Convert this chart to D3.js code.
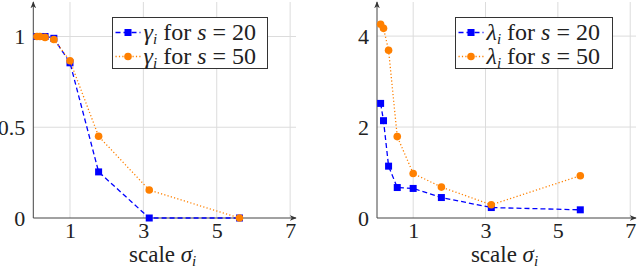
<!DOCTYPE html>
<html>
<head>
<meta charset="utf-8">
<style>
body { margin: 0; background: white; }
svg text, svg tspan { font-family: "Liberation Serif", "Times New Roman", "DejaVu Serif" !important; }
</style>
<script src="https://d3js.org/d3.v7.min.js"></script>
</head>
<body>
<script>

// scales sigma_i (log spaced)
var sigmas = [0.1, 0.18, 0.32, 0.56, 1.0, 1.78, 3.16, 5.62];

// left panel: gamma_i
var gamma20 = [1.0, 1.0, 1.0, 0.99, 0.855, 0.254, 0.0, 0.0];
var gamma50 = [1.0, 1.0, 0.995, 0.983, 0.866, 0.45, 0.154, 0.0];

// right panel: lambda_i
var lambda20 = [2.52, 2.14, 1.14, 0.67, 0.65, 0.45, 0.23, 0.18];
var lambda50 = [4.26, 4.17, 3.69, 1.79, 0.98, 0.68, 0.29, 0.93];

var xTicks = [1, 3, 5, 7];
var yTicksLeft = [0, 0.5, 1];
var yTicksRight = [0, 2, 4];

var FONT = "Liberation Serif";

var svg = d3.select("body").append("svg")
    .attr("width", 640)
    .attr("height", 268)
    .attr("font-family", FONT);

var defs = svg.append("defs");
defs.append("marker")
    .attr("id", "arrow")
    .attr("viewBox", "0 0 10 10")
    .attr("refX", 9).attr("refY", 5)
    .attr("markerWidth", 7).attr("markerHeight", 7)
    .attr("markerUnits", "userSpaceOnUse")
    .attr("orient", "auto")
  .append("path")
    .attr("d", "M0,1 L10,5 L0,9 L3,5 Z")
    .attr("fill", "#333");

function panel(opts) {
  var x = d3.scaleLinear().domain([0, 7.16]).range(opts.xr);
  var y = d3.scaleLinear().domain([0, opts.ymax]).range([218, 2]);
  var g = svg.append("g");

  // grid
  g.selectAll(".vgrid").data(xTicks).enter().append("line")
    .attr("x1", d => x(d)).attr("x2", d => x(d))
    .attr("y1", y(0)).attr("y2", y(opts.ymax))
    .attr("stroke", "#dcdcdc").attr("stroke-width", 1);
  g.selectAll(".hgrid").data(opts.yTicks.slice(1)).enter().append("line")
    .attr("x1", x(0)).attr("x2", x(7.16))
    .attr("y1", d => y(d)).attr("y2", d => y(d))
    .attr("stroke", "#dcdcdc").attr("stroke-width", 1);

  // axes (arrow heads)
  g.append("line")
    .attr("x1", x(0)).attr("x2", x(7.16))
    .attr("y1", y(0)).attr("y2", y(0))
    .attr("stroke", "#444").attr("stroke-width", 1)
    .attr("marker-end", "url(#arrow)");
  g.append("line")
    .attr("x1", x(0)).attr("x2", x(0))
    .attr("y1", y(0)).attr("y2", y(opts.ymax))
    .attr("stroke", "#444").attr("stroke-width", 1)
    .attr("marker-end", "url(#arrow)");

  // tick labels via d3 axes
  var xa = g.append("g")
    .attr("transform", "translate(0," + y(0) + ")")
    .call(d3.axisBottom(x).tickValues(xTicks).tickSize(0).tickPadding(4).tickFormat(d3.format("d")));
  xa.attr("font-family", FONT).attr("font-size", 22);
  xa.select(".domain").remove();
  xa.selectAll("text").attr("fill", "#222").attr("font-family", FONT);

  var ya = g.append("g")
    .attr("transform", "translate(" + x(0) + ",0)")
    .call(d3.axisLeft(y).tickValues(opts.yTicks).tickSize(0).tickPadding(8).tickFormat(d => String(d)));
  ya.attr("font-family", FONT).attr("font-size", 22);
  ya.select(".domain").remove();
  ya.selectAll("text").attr("fill", "#222").attr("font-family", FONT);

  // x label
  var lab = g.append("text")
    .attr("x", (x(0) + x(7.16)) / 2 - 2).attr("y", 262)
    .attr("text-anchor", "middle").attr("font-size", 23).attr("fill", "#222")
    .attr("font-family", FONT);
  lab.append("tspan").text("scale ");
  lab.append("tspan").attr("font-style", "italic").text("σ");
  lab.append("tspan").attr("font-style", "italic").attr("font-size", 15).attr("dy", 4).text("i");

  // series
  var series = [
    {vals: opts.s20, color: "#0000ff", dash: "5,3", marker: "square", label: "20"},
    {vals: opts.s50, color: "#ff8000", dash: "1.2,2.2", marker: "circle", label: "50"}
  ];
  var line = d3.line().x(d => x(d[0])).y(d => y(d[1]));

  series.forEach(function(s) {
    var pts = sigmas.map((v, i) => [v, s.vals[i]]);
    g.append("path").datum(pts)
      .attr("d", line).attr("fill", "none")
      .attr("stroke", s.color).attr("stroke-width", 1.3)
      .attr("stroke-dasharray", s.dash);
    drawMarks(g, pts.map(p => [x(p[0]), y(p[1])]), s);
  });

  // legend
  var lg = g.append("g").attr("transform", "translate(" + opts.legend[0] + "," + opts.legend[1] + ")");
  lg.append("rect").attr("width", opts.legend[2]).attr("height", 51)
    .attr("fill", "white").attr("stroke", "#333").attr("stroke-width", 1);
  series.forEach(function(s, i) {
    var cy = 15 + i * 24;
    lg.append("line").attr("x1", 3).attr("x2", 28).attr("y1", cy).attr("y2", cy)
      .attr("stroke", s.color).attr("stroke-width", 1.3).attr("stroke-dasharray", s.dash);
    drawMarks(lg, [[15.5, cy]], s);
    var t = lg.append("text").attr("x", 31).attr("y", cy + 7)
      .attr("font-size", 24).attr("fill", "#222")
      .attr("font-family", FONT);
    t.append("tspan").attr("font-style", "italic").text(opts.sym);
    t.append("tspan").attr("font-style", "italic").attr("font-size", 15).attr("dy", 4).text("i");
    t.append("tspan").attr("dy", -4).text(" for ");
    t.append("tspan").attr("font-style", "italic").text("s");
    t.append("tspan").text(" = " + s.label);
  });
}

function drawMarks(g, pts, s) {
  if (s.marker === "square") {
    g.selectAll(null).data(pts).enter().append("rect")
      .attr("x", d => d[0] - 3.5).attr("y", d => d[1] - 3.5)
      .attr("width", 7).attr("height", 7).attr("fill", s.color);
  } else {
    g.selectAll(null).data(pts).enter().append("circle")
      .attr("cx", d => d[0]).attr("cy", d => d[1]).attr("r", 3.8)
      .attr("fill", s.color);
  }
}

panel({xr: [33.3, 296], ymax: 1.19, yTicks: yTicksLeft, s20: gamma20, s50: gamma50,
       sym: "γ", legend: [112.5, 17.5, 155]});
panel({xr: [377, 636], ymax: 4.75, yTicks: yTicksRight, s20: lambda20, s50: lambda50,
       sym: "λ", legend: [455.5, 17.5, 157]});

</script>
</body>
</html>
